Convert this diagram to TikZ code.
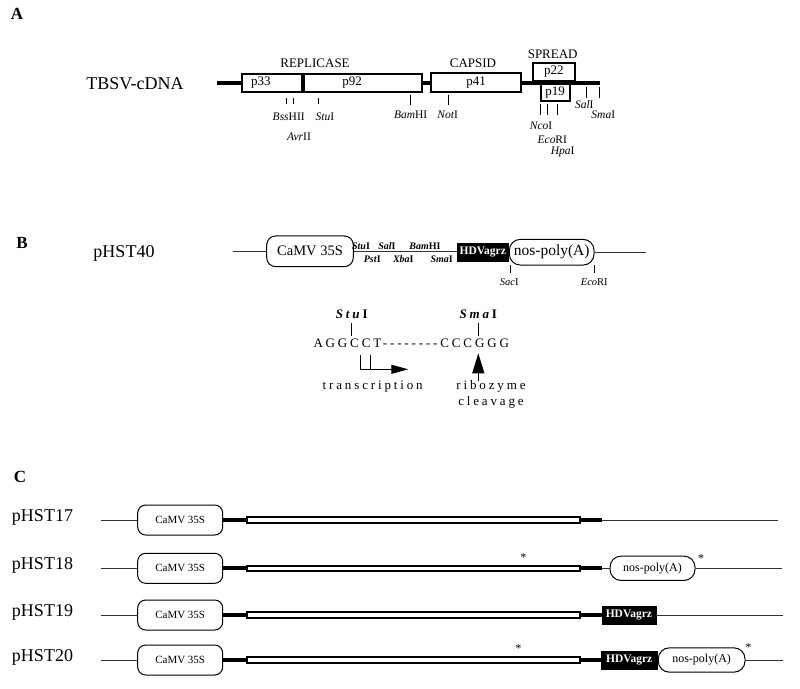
\documentclass[tikz,border=0pt]{standalone}
\usepackage{fontspec}
\setmainfont{Liberation Serif}
\newfontfamily\spacedfont{Liberation Serif}[LetterSpace=22]
\usetikzlibrary{arrows.meta}

\newcommand\fsize[1]{\fontsize{#1}{#1}\selectfont}
\newcommand\enz[2]{\textit{#1}#2}

\tikzset{
  panel/.style={font=\fsize{17}\bfseries},
  plasmid/.style={font=\fsize{18}},
  orf/.style={draw, line width=1.9, fill=white, inner sep=0, minimum height=18.7, font=\fsize{13}},
  region/.style={font=\fsize{13}},
  backbone/.style={line width=4},
  vector/.style={draw=black!80, line width=1},
  site/.style={line width=0.8},
  sitename/.style={font=\fsize{11.5}, inner sep=0},
  promoter/.style={draw, fill=white, rounded corners=9, line width=1, inner sep=0},
  ribozyme/.style={draw, fill=black, text=white, inner sep=0, font=\fsize{11.5}\bfseries},
  insert/.style={draw, line width=2, fill=white, inner sep=0, minimum height=5.3},
  mcs/.style={font=\fsize{10}\bfseries, inner sep=0},
  spaced/.style={font=\fontsize{13}{16}\selectfont\spacedfont, inner sep=0},
  enzseq/.style={font=\fsize{13}\spacedfont\bfseries, inner sep=0},
  asterisk/.style={font=\fsize{12}, inner sep=0},
}

\begin{document}
\begin{tikzpicture}[x=1pt, y=-1pt]
  \useasboundingbox (0,0) rectangle (800,688);

  % Panel A: the viral genome
  \node[panel] (labA) at (17,14) {A};
  \node[plasmid] (tbsv) at (135,84) {TBSV-cDNA};

  \coordinate (a0) at (217,82.5);
  \coordinate (a1) at (599.5,82.5);
  \draw[backbone] (a0) -- (a1);

  \node[orf, minimum width=60.5, label={[region, xshift=-11]center:p33}] (p33) at (271.85,83) {};
  \node[orf, minimum width=118, label={[region, xshift=-11]center:p92}] (p92) at (363,83) {};
  \node[orf, minimum width=90] (p41) at (476,82.3) {p41};
  \node[orf, minimum width=41.8, minimum height=17.5] (p22) at (553.85,72) {p22};
  \node[orf, minimum width=29, minimum height=16.5] (p19) at (555.2,92.5) {p19};

  \node[region] (repl)   at (315,63.3)   {REPLICASE};
  \node[region] (caps)   at (473,63.3)   {CAPSID};
  \node[region] (spread) at (552.7,54.3) {SPREAD};

  % restriction sites
  \foreach \x/\ya/\yb in {286/97.7/104.3, 293.3/97.7/104.3, 318.3/97.7/104.3,
                          410.7/95/105, 448/95/105,
                          540/104.3/115, 547.3/104.3/115, 557.3/104.3/115,
                          586.7/87.3/97.7, 599.3/87.3/97.7}
    \draw[site] (\x,\ya) -- (\x,\yb);

  \node[sitename] (bss)  at (288.7,116.7) {\enz{Bss}{HII}};
  \node[sitename] (stuA) at (325,116.7)   {\enz{Stu}{I}};
  \node[sitename] (avr)  at (299,136.7)   {\enz{Avr}{II}};
  \node[sitename] (bamA) at (410.7,115)   {\enz{Bam}{HI}};
  \node[sitename] (notA) at (447.7,115)   {\enz{Not}{I}};
  \node[sitename] (nco)  at (541,126)     {\enz{Nco}{I}};
  \node[sitename] (ecoA) at (552.3,139.3) {\enz{Eco}{RI}};
  \node[sitename] (hpa)  at (562.7,152.3) {\enz{Hpa}{I}};
  \node[sitename] (salA) at (584.3,105)   {\enz{Sal}{I}};
  \node[sitename] (smaA) at (603.3,115)   {\enz{Sma}{I}};

  % Panel B: the expression cassette
  \node[panel] (labB) at (22,243) {B};
  \node[plasmid] (p40) at (124,253) {pHST40};
  \node[promoter, minimum width=86.6, minimum height=30.7, font=\fsize{14.5}] (camv) at (310,251.3) {CaMV 35S};
  \node[ribozyme, minimum width=51, minimum height=17.7] (hdv) at (482.8,252.2) {HDVagrz};
  \node[promoter, rounded corners=11, minimum width=84.7, minimum height=25.7, font=\fsize{15.5}] (nos) at (551.7,252.2) {nos-poly(A)};
  \coordinate (b0) at (232.7,251.3);
  \coordinate (b1) at (646,252.2);
  \draw[vector] (b0) -- (camv.west) (camv.east) -- (hdv.west |- camv.east) (nos.east) -- (b1);

  \node[mcs] (stuB) at (361,246.5)   {\textit{Stu}I};
  \node[mcs] (salB) at (387,246.5)   {\textit{Sal}I};
  \node[mcs] (bamB) at (425,246.5)   {\textit{Bam}HI};
  \node[mcs] (pstB) at (372.3,259)   {\textit{Pst}I};
  \node[mcs] (xbaB) at (403.3,259)   {\textit{Xba}I};
  \node[mcs] (smaB) at (441.7,259)   {\textit{Sma}I};

  \draw[site] (510,265) -- (510,273.3) (594.3,265) -- (594.3,273.3);
  \node[sitename, font=\fsize{10.5}] (sac)  at (509.3,281.7) {\enz{Sac}{I}};
  \node[sitename, font=\fsize{10.5}] (ecoB) at (594.3,281.7) {\enz{Eco}{RI}};

  % sequence at the junctions
  \node[enzseq] (stuS) at (351.7,314) {\textit{Stu}I};
  \node[enzseq] (smaS) at (478.3,314) {\textit{Sma}I};
  \draw[site] (351.7,323.3) -- (351.7,336) (478.3,323.3) -- (478.3,336);
  \node[spaced, anchor=west] (seq) at (313.3,343.3) {AGGCCT--------CCCGGG};

  \node[spaced] (tx) at (372.7,386.7) {transcription};
  \node[spaced, align=center] (ribo) at (491,394.7) {ribozyme\\cleavage};

  \coordinate (tx0) at (360,355);
  \coordinate (tx1) at (408.3,369.3);
  \coordinate (cut) at (478.3,353.3);
  \draw[line width=1, -{Triangle[length=17,width=9]}] (tx0) |- (tx1);
  \draw[line width=1] (370.7,355) -- (370.7,369.3);
  \draw[line width=1.2, -{Triangle[length=20,width=12]}] (ribo.north -| cut) -- (cut);

  % Panel C: the constructs
  \node[panel] (labC) at (20,477) {C};
  \foreach \name/\y in {17/520, 18/568.3, 19/615, 20/660} {
    \node[plasmid] (lab\name) at (42.5,\y-3) {pHST\name};
    \node[promoter, rounded corners=8, minimum width=85, minimum height=30, font=\fsize{11}] (camv\name) at (180.2,\y) {CaMV 35S};
    \node[insert, minimum width=333] (ins\name) at (413.5,\y) {};
    \coordinate (start\name) at (101,\y);
    \coordinate (end\name) at (602,\y);
    \draw[vector] (start\name) -- (camv\name);
    \draw[backbone] (camv\name) -- (ins\name) (ins\name.east) -- (end\name);
  }

  % pHST17
  \coordinate (t17) at (778.3,520);
  \draw[vector] (end17) -- (t17);

  % pHST18
  \node[promoter, rounded corners=11, minimum width=85, minimum height=24.3, font=\fsize{12}] (nos18) at (652.5,568.3) {nos-poly(A)};
  \coordinate (t18) at (781.7,568.3);
  \draw[vector] (end18) -- (nos18) (nos18) -- (t18);
  \node[asterisk] (ast18a) at (523.3,557.7) {*};
  \node[asterisk] (ast18b) at (701,558.3) {*};

  % pHST19
  \node[ribozyme, minimum width=54.3, minimum height=18] (hdv19) at (628.85,615) {HDVagrz};
  \coordinate (t19) at (782.7,615);
  \draw[vector] (hdv19) -- (t19);

  % pHST20
  \node[ribozyme, minimum width=56.3, minimum height=18.3] (hdv20) at (629.15,660) {HDVagrz};
  \node[promoter, rounded corners=11, minimum width=86.7, minimum height=24.3, font=\fsize{12}] (nos20) at (701.65,660) {nos-poly(A)};
  \coordinate (t20) at (783.3,660);
  \draw[vector] (nos20) -- (t20);
  \node[asterisk] (ast20a) at (518.3,649) {*};
  \node[asterisk] (ast20b) at (748.3,647.3) {*};
\end{tikzpicture}
\end{document}
